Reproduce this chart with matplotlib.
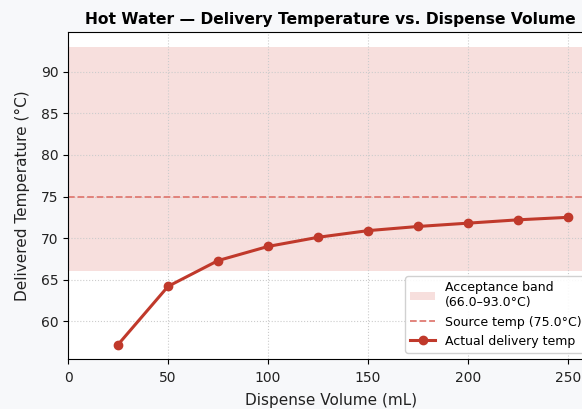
import matplotlib.pyplot as plt

# Dispense volumes (mL) and measured delivery temperatures (°C)
volumes = [25, 50, 75, 100, 125, 150, 175, 200, 225, 250]
temps = [57.2, 64.2, 67.3, 69.0, 70.1, 70.9, 71.4, 71.8, 72.2, 72.5]

band_low = 66.0
band_high = 93.0
source_temp = 75.0

fig = plt.figure(figsize=(5.82, 4.09), dpi=100, facecolor='#f7f8fa')
ax = fig.add_axes([0.117, 0.122, 0.902, 0.800])
ax.set_facecolor('white')

ax.axhspan(band_low, band_high, color='#e8a09a', alpha=0.33, lw=0,
           label=f'Acceptance band\n({band_low:.1f}–{band_high:.1f}°C)')
ax.axhline(source_temp, color='#e07b73', ls='--', lw=1.3,
           label=f'Source temp ({source_temp:.1f}°C)')
ax.plot(volumes, temps, color='#c0392b', lw=2.2, marker='o', ms=6,
        label='Actual delivery temp')

ax.set_xlim(0, 262.5)
ax.set_ylim(55.45, 94.8)
ax.set_yticks([60, 65, 70, 75, 80, 85, 90])
ax.grid(True, ls=':', color='#cccccc', lw=0.8)
ax.tick_params(labelsize=10, labelcolor='#222222')
ax.tick_params(axis='x', pad=5)

ax.set_xlabel('Dispense Volume (mL)', fontsize=11, labelpad=6, color='#222222')
ax.set_ylabel('Delivered Temperature (°C)', fontsize=11, labelpad=8, color='#222222')
ax.set_title('Hot Water — Delivery Temperature vs. Dispense Volume',
             fontsize=11.2, fontweight='bold')
ax.legend(loc='lower right', fontsize=9, framealpha=0.9)

fig.savefig('out.png', dpi=100, facecolor=fig.get_facecolor())
